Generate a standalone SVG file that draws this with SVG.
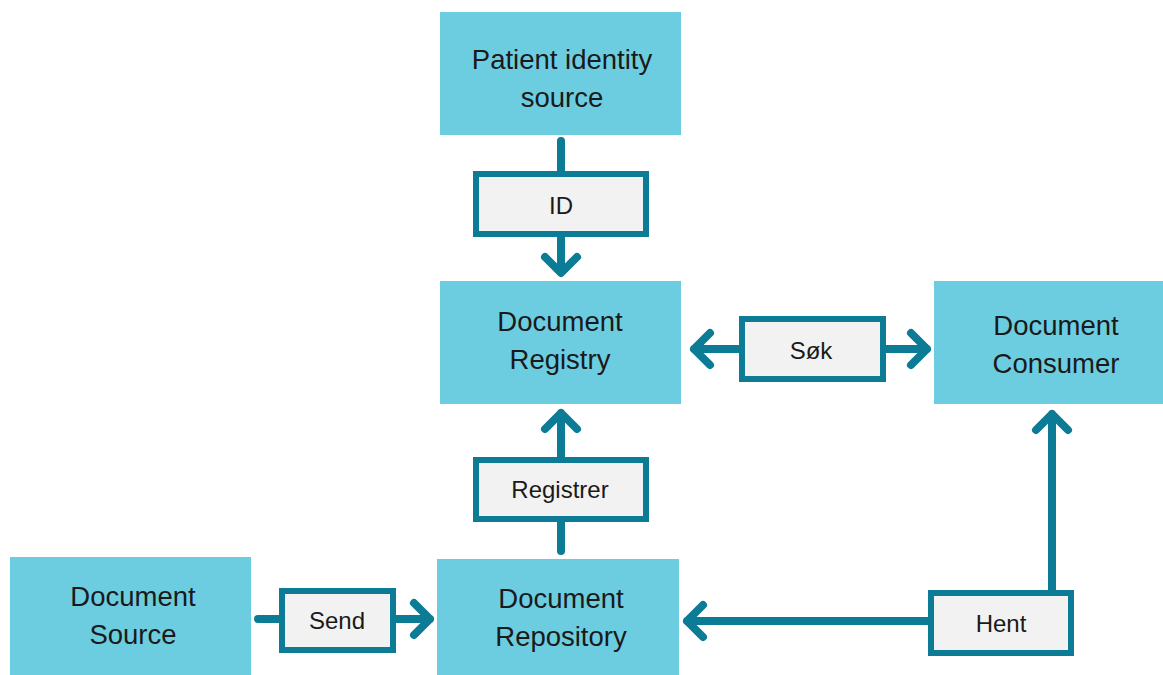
<svg xmlns="http://www.w3.org/2000/svg" width="1163" height="675" viewBox="0 0 1163 675">
<style>
.node{fill:#6dcde0}
.nt{font-family:"Liberation Sans",Arial,sans-serif;font-size:27.5px;fill:#1a1a1a;text-anchor:middle}
.lab{fill:#f2f2f2;stroke:#0b7b96;stroke-width:6}
.lt{font-family:"Liberation Sans",Arial,sans-serif;font-size:24px;fill:#1a1a1a;text-anchor:middle}
.c{fill:none;stroke:#0b7b96;stroke-width:8;stroke-linecap:round;stroke-linejoin:round}
</style>
<rect width="1163" height="675" fill="#ffffff"/>
<g id="connectors">
<path class="c" d="M561 141V172M561 236V272M545 257L561 273L577 257"/>
<path class="c" d="M561 551V522M561 457V413M545 429L561 413L577 429"/>
<path class="c" d="M741 349H694M710 333L694 349L710 365M884 349H927M911 333L927 349L911 365"/>
<path class="c" d="M258 619H281M394 619H430M414 603L430 619L414 635"/>
<path class="c" d="M930 621H687M703 605L687 621L703 637"/>
<path class="c" d="M1052 592V414M1036 430L1052 414L1068 430"/>
</g>
<g id="patient-identity-source">
<rect class="node" x="440" y="12" width="241" height="123"/>
<text class="nt" x="562" y="69">Patient identity</text>
<text class="nt" x="562" y="107">source</text>
</g>
<g id="document-registry">
<rect class="node" x="440" y="281" width="241" height="123"/>
<text class="nt" x="560" y="331">Document</text>
<text class="nt" x="560" y="369">Registry</text>
</g>
<g id="document-consumer">
<rect class="node" x="934" y="281" width="229" height="123"/>
<text class="nt" x="1056" y="335">Document</text>
<text class="nt" x="1056" y="373">Consumer</text>
</g>
<g id="document-source">
<rect class="node" x="10" y="557" width="241" height="118"/>
<text class="nt" x="133" y="606">Document</text>
<text class="nt" x="133" y="644">Source</text>
</g>
<g id="document-repository">
<rect class="node" x="437" y="559" width="242" height="116"/>
<text class="nt" x="561" y="608">Document</text>
<text class="nt" x="561" y="646">Repository</text>
</g>
<g id="label-id">
<rect class="lab" x="476" y="174" width="170" height="60"/>
<text class="lt" x="561" y="214">ID</text>
</g>
<g id="label-sok">
<rect class="lab" x="742" y="319" width="141" height="60"/>
<text class="lt" x="811" y="359">Søk</text>
</g>
<g id="label-registrer">
<rect class="lab" x="476" y="460" width="170" height="59"/>
<text class="lt" x="560" y="498">Registrer</text>
</g>
<g id="label-send">
<rect class="lab" x="282" y="591" width="111" height="59"/>
<text class="lt" x="337" y="629">Send</text>
</g>
<g id="label-hent">
<rect class="lab" x="931" y="593" width="140" height="60"/>
<text class="lt" x="1001" y="632">Hent</text>
</g>
</svg>
